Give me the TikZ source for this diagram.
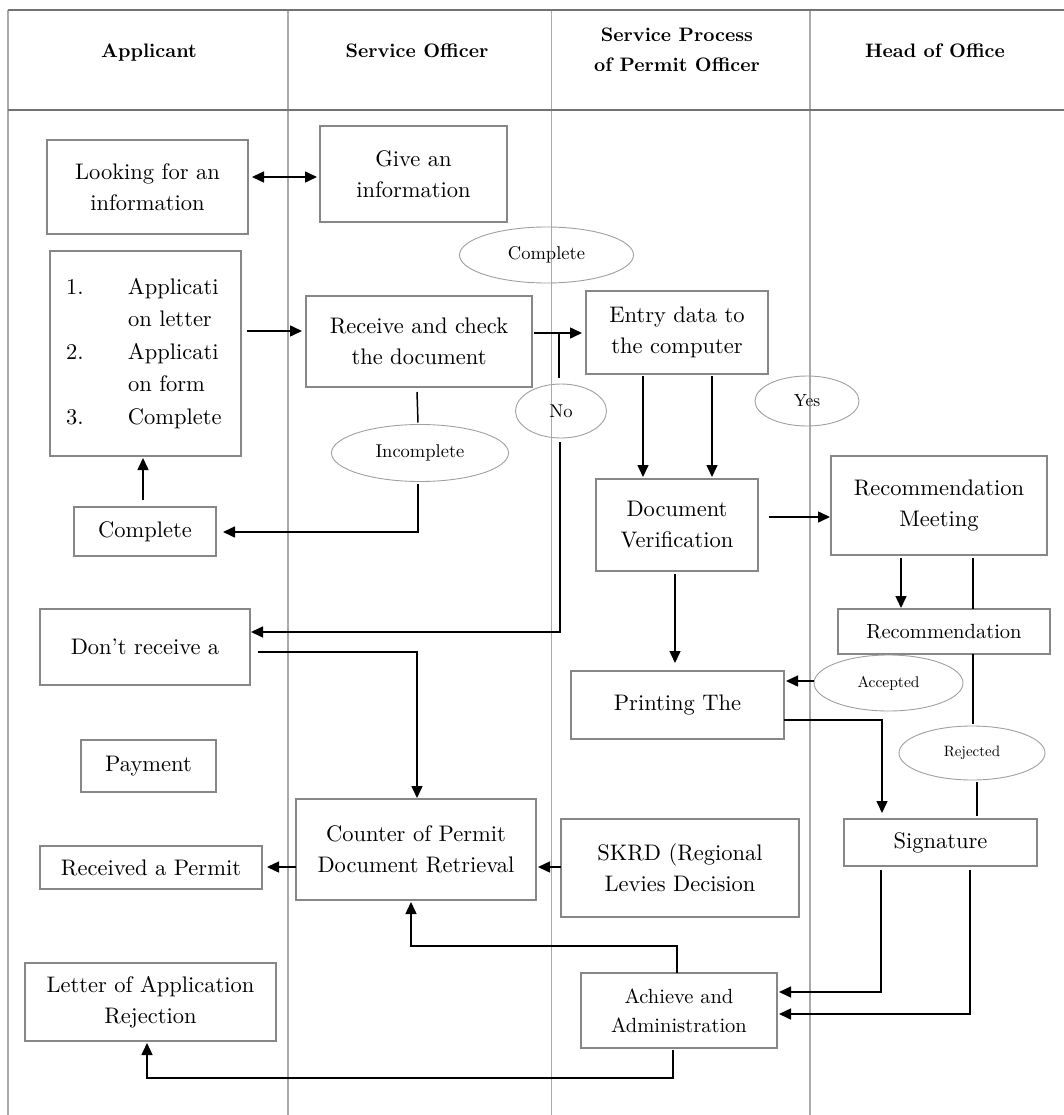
\documentclass[tikz,border=0pt]{standalone}
\usepackage{fontspec}
\setmainfont{lmroman10-regular.otf}[BoldFont=lmroman10-bold.otf]
\usetikzlibrary{arrows.meta,shapes.geometric}
\definecolor{boxgray}{RGB}{135,135,135}
\definecolor{ellgray}{RGB}{160,160,160}
\definecolor{colgray}{RGB}{170,170,170}
\definecolor{hdrgray}{RGB}{115,115,115}
\begin{document}
\begin{tikzpicture}[x=1pt,y=-1pt,
  rbox/.style={draw=boxgray, line width=1.1pt, inner sep=0pt, outer sep=0pt, align=center, font=\fontsize{22.5}{31}\selectfont},
  sbox/.style={rbox, font=\fontsize{20.5}{29}\selectfont},
  ell/.style={ellipse, draw=ellgray, line width=0.9pt, inner sep=0pt, outer sep=0pt},
  conn/.style={line width=1.5pt, draw=black},
  arr/.style={conn, -{Triangle[length=12pt,width=11pt]}},
  arrs/.style={conn, {Triangle[length=12pt,width=11pt]}-{Triangle[length=12pt,width=11pt]}},
  hdr/.style={font=\bfseries\fontsize{19.5}{31}\selectfont, inner sep=0pt, anchor=base},
  colline/.style={draw=colgray, line width=1.1pt},
  hline/.style={draw=hdrgray, line width=1.3pt}]
\useasboundingbox (0,0) rectangle (1064,1115);
\fill[white] (0,0) rectangle (1064,1115);

% table lines
\draw[colline] (8,10) -- (8,1115);
\draw[colline] (288,10) -- (288,1115);
\draw[colline] (551.5,10) -- (551.5,1115);
\draw[colline] (810,10) -- (810,1115);
\draw[hline] (8,10) -- (1064,10);
\draw[hline] (8,110) -- (1064,110);

% header
\node[hdr] (h1) at (149,58) {Applicant};
\node[hdr] (h2) at (417,58) {Service Officer};
\node[hdr] (h3a) at (677,42) {Service Process};
\node[hdr] (h3b) at (677,72) {of Permit Officer};
\node[hdr] (h4) at (935,58) {Head of Office};

% boxes
\node[rbox, minimum width=201pt, minimum height=94pt] (look) at (147.5,187) {Looking for an\\information};
\node[rbox, minimum width=187pt, minimum height=96pt] (give) at (413.5,174) {Give an\\information};
\node[rbox, minimum width=191pt, minimum height=205pt, align=left, text width=159pt, inner xsep=16pt, font=\fontsize{22.5}{32.5}\selectfont] (list) at (145.5,353.5)
  {\makebox[62pt][l]{1.}Applicati\\\hspace*{62pt}on letter\\\makebox[62pt][l]{2.}Applicati\\\hspace*{62pt}on form\\\makebox[62pt][l]{3.}Complete};
\node[rbox, minimum width=226pt, minimum height=91pt] (recv) at (419,341.5) {Receive and check\\the document};
\node[rbox, minimum width=182pt, minimum height=83pt] (entry) at (677,332.5) {Entry data to\\the computer};
\node[rbox, minimum width=142pt, minimum height=49pt] (cbox) at (145,531.5) {Complete};
\node[rbox, minimum width=162pt, minimum height=92pt] (docver) at (677,525) {Document\\Verification};
\node[rbox, minimum width=216pt, minimum height=99pt] (recmeet) at (939,505.5) {Recommendation\\Meeting};
\node[sbox, minimum width=212pt, minimum height=45pt] (recom) at (944,631.5) {Recommendation};
\node[rbox, minimum width=210pt, minimum height=76pt] (dontrecv) at (145,647) {Don’t receive a};
\node[rbox, minimum width=213pt, minimum height=68pt] (printing) at (677.5,705) {Printing The};
\node[rbox, minimum width=135pt, minimum height=52pt] (payment) at (148.5,766) {Payment};
\node[rbox, minimum width=193pt, minimum height=47pt] (signature) at (940.5,842.5) {Signature};
\node[rbox, minimum width=240pt, minimum height=101pt] (counter) at (416,849.5) {Counter of Permit\\Document Retrieval};
\node[rbox, minimum width=238pt, minimum height=98pt] (skrd) at (680,868) {SKRD (Regional\\Levies Decision};
\node[rbox, minimum width=222pt, minimum height=43pt] (received) at (151,867.5) {Received a Permit};
\node[rbox, minimum width=251pt, minimum height=78pt] (letter) at (150.5,1002) {Letter of Application\\Rejection};
\node[sbox, minimum width=196pt, minimum height=75pt] (achieve) at (679,1010.5) {Achieve and\\Administration};

% ellipses
\node[ell, minimum width=174pt, minimum height=56pt, font=\fontsize{18.5}{22}\selectfont] (cmpE) at (546.5,255) {Complete};
\node[ell, minimum width=91pt, minimum height=54pt, font=\fontsize{18.5}{22}\selectfont] (noE) at (561,411) {No};
\node[ell, minimum width=104pt, minimum height=50pt, font=\fontsize{17.5}{22}\selectfont] (yesE) at (807,401) {Yes};
\node[ell, minimum width=177pt, minimum height=57pt, font=\fontsize{18.5}{22}\selectfont] (incE) at (420,453) {Incomplete};
\node[ell, minimum width=149pt, minimum height=56pt, font=\fontsize{15.5}{20}\selectfont] (accE) at (888.5,683) {Accepted};
\node[ell, minimum width=146pt, minimum height=54pt, font=\fontsize{15}{20}\selectfont] (rejE) at (972,753) {Rejected};

% connectors
\draw[arrs] ([xshift=4pt]look.east |- 0,177) -- ([xshift=-3pt]give.west |- 0,177);
\draw[arr] ([xshift=6pt]list.east |- 0,331) -- ([xshift=-4pt]recv.west |- 0,331);
\draw[arr] ([xshift=2pt]recv.east |- 0,333) -- ([xshift=-4pt]entry.west |- 0,333);
\draw[conn] ([xshift=-2pt,yshift=6pt]noE.north) -- ([xshift=-2pt]noE.north |- 0,333);
\draw[arr] ([xshift=-1pt,yshift=-4pt]noE.south) |- ([xshift=1pt]dontrecv.east |- 0,632);
\draw[conn] ([xshift=-2pt,yshift=-5pt]recv.south) -- ([xshift=-2pt,yshift=2pt]incE.north);
\draw[arr] ([xshift=-2pt,yshift=-2pt]incE.south) |- ([xshift=7pt]cbox.east |- 0,532);
\draw[arr] ([yshift=7pt]cbox.north -| 143,0) -- ([yshift=-2pt]list.south -| 143,0);
\draw[arr] ([yshift=-2pt]entry.south -| 643,0) -- ([yshift=2pt]docver.north -| 643,0);
\draw[arr] ([yshift=-2pt]entry.south -| 712,0) -- ([yshift=2pt]docver.north -| 712,0);
\draw[arr] ([xshift=11pt]docver.east |- 0,517) -- ([xshift=-1pt]recmeet.west |- 0,517);
\draw[arr] ([yshift=-3pt]recmeet.south -| 901,0) -- ([yshift=1pt]recom.north -| 901,0);
\draw[conn] ([yshift=-3pt]recmeet.south -| 973,0) -- (recom.north -| 973,0);
\draw[conn] (recom.south -| 973,0) -- ([yshift=2pt]rejE.north -| 973,0);
\draw[conn] ([yshift=-2pt]rejE.south -| 977,0) -- ([yshift=3pt]signature.north -| 977,0);
\draw[arr] (accE.west |- 0,681) -- ([xshift=2pt]printing.east |- 0,681);
\draw[arr] ([yshift=-3pt]docver.south -| 675,0) -- ([yshift=8pt]printing.north -| 675,0);
\draw[arr] (printing.east |- 0,720) -| ([yshift=6pt]signature.north -| 882,0);
\draw[arr] ([xshift=8pt]dontrecv.east |- 0,652) -| ([yshift=1pt]counter.north -| 417,0);
\draw[arr] (counter.west |- 0,867) -- ([xshift=5pt]received.east |- 0,867);
\draw[arr] (skrd.west |- 0,867) -- ([xshift=2pt]counter.east |- 0,867);
\draw[arr] (achieve.north -| 677,0) |- (411,946) -- ([yshift=-2pt]counter.south -| 411,0);
\draw[arr] ([yshift=-2pt]achieve.south -| 673,0) |- (147,1078) -- ([yshift=-2pt]letter.south -| 147,0);
\draw[arr] ([yshift=-4pt]signature.south -| 881,0) |- ([xshift=2pt]achieve.east |- 0,992);
\draw[arr] ([yshift=-4pt]signature.south -| 970,0) |- ([xshift=2pt]achieve.east |- 0,1014);
\end{tikzpicture}
\end{document}
